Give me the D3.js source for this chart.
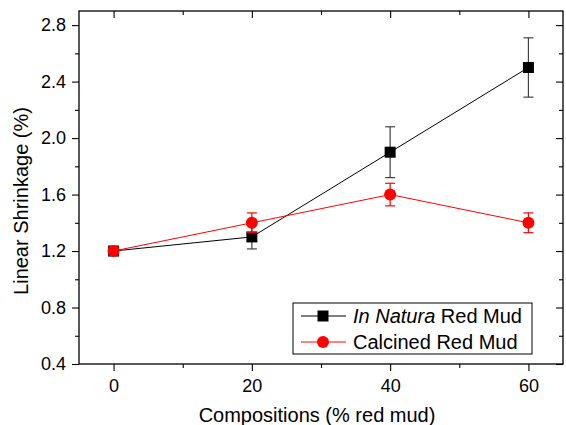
<!DOCTYPE html>
<html>
<head>
<meta charset="utf-8">
<script src="https://cdn.jsdelivr.net/npm/d3@7"></script>
<style>
  body { margin: 0; background: #fff; }
  text { font-family: "Liberation Sans", Arial, sans-serif; fill: #000; }
</style>
</head>
<body>
<svg id="chart" width="566" height="425"></svg>
<script>
// data
var compositions = [0, 20, 40, 60];
var naturaValues = [1.2, 1.3, 1.9, 2.5];
var naturaErrors = [0.03, 0.085, 0.18, 0.21];
var calcinedValues = [1.2, 1.4, 1.6, 1.4];
var calcinedErrors = [0.03, 0.07, 0.08, 0.07];
var xTicks = [0, 20, 40, 60];
var xMinor = [10, 30, 50];
var yTicks = [0.4, 0.8, 1.2, 1.6, 2.0, 2.4, 2.8];
var yMinor = [0.6, 1.0, 1.4, 1.8, 2.2, 2.6];
var seriesNames = ["In Natura Red Mud", "Calcined Red Mud"];

var svg = d3.select("#chart"),
    margin = {top: 11, right: 3, bottom: 61, left: 79},
    width = +svg.attr("width") - margin.left - margin.right,
    height = +svg.attr("height") - margin.top - margin.bottom;

var x = d3.scaleLinear().domain([-5, 65]).range([0, width]);
var y = d3.scaleLinear().domain([0.4, 2.9]).range([height, 0]);

var g = svg.append("g").attr("transform", "translate(" + margin.left + "," + margin.top + ")");

// frame
g.append("rect").attr("width", width).attr("height", height)
  .attr("fill", "none").attr("stroke", "#000").attr("stroke-width", 1.3);

// bottom + left axes, outward ticks, with minor ticks
g.append("g").attr("transform", "translate(0," + height + ")")
  .call(d3.axisBottom(x).tickValues(xTicks).tickSize(7).tickPadding(8).tickFormat(d3.format("d")));
g.append("g").attr("transform", "translate(0," + height + ")")
  .call(d3.axisBottom(x).tickValues(xMinor).tickSize(4).tickFormat(""));

g.append("g")
  .call(d3.axisLeft(y).tickValues(yTicks).tickSize(7).tickPadding(6).tickFormat(d3.format(".1f")));
g.append("g")
  .call(d3.axisLeft(y).tickValues(yMinor).tickSize(4).tickFormat(""));

// mirrored inward ticks on top and right
g.append("g").call(d3.axisBottom(x).tickValues(xTicks).tickSize(7).tickFormat(""));
g.append("g").call(d3.axisBottom(x).tickValues(xMinor).tickSize(4).tickFormat(""));
g.append("g").attr("transform", "translate(" + width + ",0)")
  .call(d3.axisLeft(y).tickValues(yTicks).tickSize(7).tickFormat(""));
g.append("g").attr("transform", "translate(" + width + ",0)")
  .call(d3.axisLeft(y).tickValues(yMinor).tickSize(4).tickFormat(""));

g.selectAll(".domain").remove();
g.selectAll(".tick line").attr("stroke", "#000").attr("stroke-width", 1.1);
g.selectAll(".tick text").style("font-size", "18px").style("font-family", "Liberation Sans, Arial, sans-serif");

// axis titles
svg.append("text")
  .attr("x", 317).attr("y", 422)
  .attr("text-anchor", "middle").style("font-size", "20px")
  .text("Compositions (% red mud)");
svg.append("text")
  .attr("transform", "translate(28,201) rotate(-90)")
  .attr("text-anchor", "middle").style("font-size", "20px")
  .text("Linear Shrinkage (%)");

function drawSeries(values, errors, color, barColor, marker) {
  var pts = compositions.map(function(c, i) { return {x: c, y: values[i], e: errors[i]}; });
  g.append("path").datum(pts)
    .attr("fill", "none").attr("stroke", color).attr("stroke-width", 1)
    .attr("d", d3.line().x(function(d) { return x(d.x); }).y(function(d) { return y(d.y); }));

  var eb = g.append("g").attr("stroke", barColor).attr("stroke-width", 1.2);
  pts.forEach(function(d) {
    var cx = x(d.x);
    eb.append("line").attr("x1", cx).attr("x2", cx).attr("y1", y(d.y - d.e)).attr("y2", y(d.y + d.e));
    eb.append("line").attr("x1", cx - 5).attr("x2", cx + 5).attr("y1", y(d.y + d.e)).attr("y2", y(d.y + d.e));
    eb.append("line").attr("x1", cx - 5).attr("x2", cx + 5).attr("y1", y(d.y - d.e)).attr("y2", y(d.y - d.e));
  });

  if (marker == "square") {
    g.append("g").selectAll("rect").data(pts).enter().append("rect")
      .attr("x", function(d) { return x(d.x) - 5.5; }).attr("y", function(d) { return y(d.y) - 5.5; })
      .attr("width", 11).attr("height", 11).attr("fill", color);
  } else {
    g.append("g").selectAll("circle").data(pts).enter().append("circle")
      .attr("cx", function(d) { return x(d.x); }).attr("cy", function(d) { return y(d.y); })
      .attr("r", 6).attr("fill", color);
  }
}

drawSeries(naturaValues, naturaErrors, "#000", "#444", "square");
drawSeries(calcinedValues, calcinedErrors, "#ff0000", "#ff0000", "circle");

// legend
var lg = svg.append("g").attr("transform", "translate(293,303)");
lg.append("rect").attr("width", 239).attr("height", 51)
  .attr("fill", "#fff").attr("stroke", "#000").attr("stroke-width", 1);

var rows = [
  {color: "#000", marker: "square", y: 13},
  {color: "#ff0000", marker: "circle", y: 39}
];
rows.forEach(function(r, i) {
  lg.append("line").attr("x1", 8).attr("x2", 53).attr("y1", r.y).attr("y2", r.y)
    .attr("stroke", r.color).attr("stroke-width", 1);
  if (r.marker == "square") {
    lg.append("rect").attr("x", 24.5).attr("y", r.y - 5.5).attr("width", 11).attr("height", 11).attr("fill", r.color);
  } else {
    lg.append("circle").attr("cx", 30).attr("cy", r.y).attr("r", 6).attr("fill", r.color);
  }
});
var t1 = lg.append("text").attr("x", 60).attr("y", 20).style("font-size", "20px");
t1.append("tspan").style("font-style", "italic").text("In Natura");
t1.append("tspan").text(" Red Mud");
lg.append("text").attr("x", 60).attr("y", 46).style("font-size", "20px").text(seriesNames[1]);
</script>
</body>
</html>
